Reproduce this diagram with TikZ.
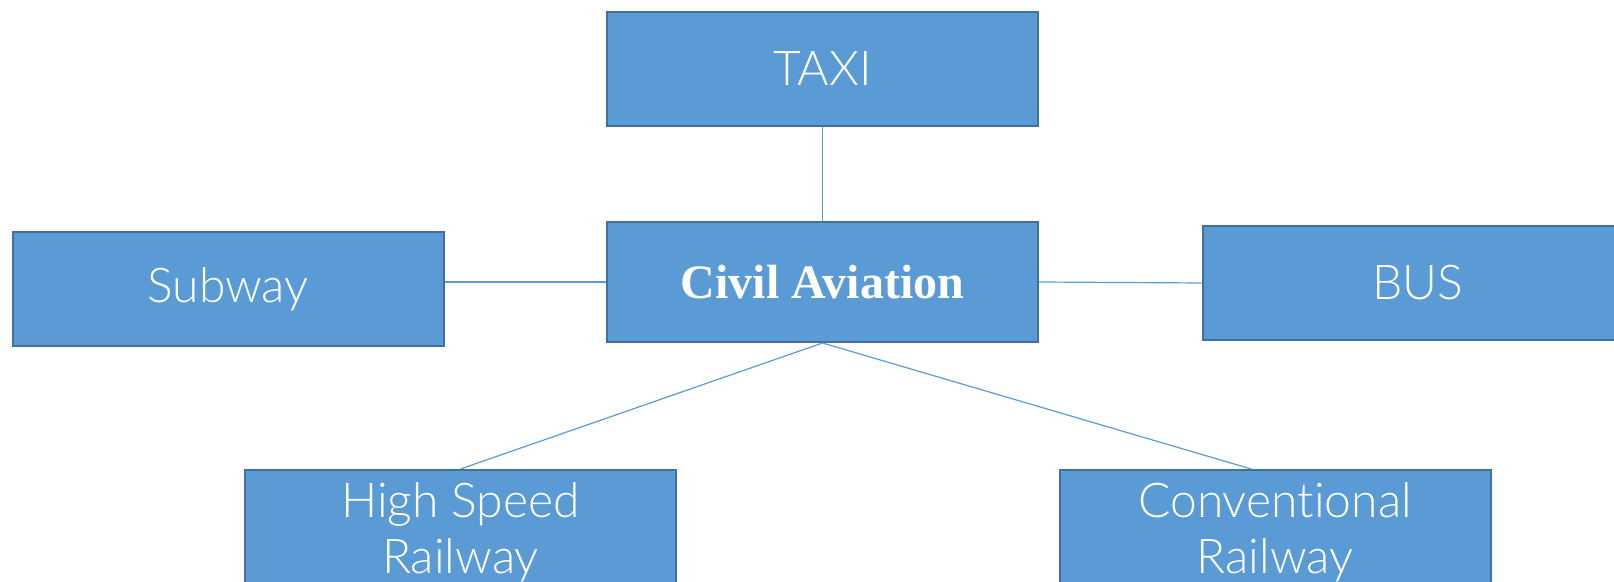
\documentclass[tikz,border=0pt]{standalone}
\usepackage{fontspec}
\setmainfont{Lato}
\newfontfamily\modefont{Lato Light}[Ligatures=NoCommon]
\newfontfamily\hubfont{Liberation Serif}
\usepackage{xcolor}
\usetikzlibrary{positioning, calc}
\definecolor{boxblue}{HTML}{5B9BD5}
\definecolor{boxedge}{HTML}{41719C}

\begin{document}
\begin{tikzpicture}[x=0.5pt, y=-0.5pt,
    mode/.style={draw=boxedge, line width=1pt, fill=boxblue, text=white,
        minimum width=215.5pt, minimum height=57pt, inner sep=0pt, align=center,
        font=\modefont\fontsize{24}{28}\selectfont},
    rail/.style={mode, minimum height=62pt},
    hub/.style={mode, minimum height=60pt, font=\hubfont\bfseries\fontsize{24}{30}\selectfont},
    link/.style={draw=boxblue, line width=0.6pt}]

    % --- Frame ---
    \clip (0,0) rectangle (1614,582);

    % --- Centre ---
    \node[hub] (civ) at (822.5,282) {Civil Aviation};

    % --- Feeder modes ---
    \node[mode] (taxi) at (822.5,69) {TAXI};
    \node[mode] (sub) at (228,289) {Subway};
    \node[mode] (bus) at (1418,283) {BUS};
    \node[rail] (hsr) at (460.5,532) {High Speed\\Railway};
    \node[rail] (conv) at (1275,532) {Conventional\\Railway};

    % --- Links ---
    \draw[link] (taxi) -- (civ);
    \draw[link] (sub.east |- civ.west) -- (civ.west);
    \draw[link] (civ.east) -- (bus.west);
    \draw[link] (civ.south) -- (hsr.north);
    \draw[link] (civ.south) -- ($(conv.north west)!0.445!(conv.north east)$);

\end{tikzpicture}
\end{document}
